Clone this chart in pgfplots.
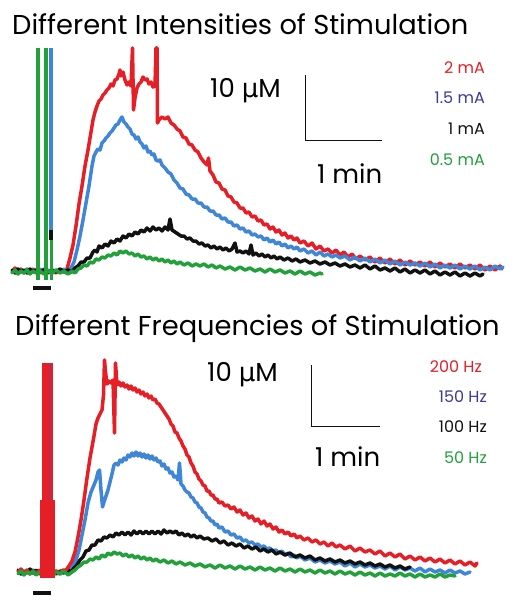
\documentclass[border=0pt]{standalone}
\usepackage{fontspec}
\setmainfont{Poppins}
\newfontfamily\mufont{DejaVu Sans}
\usepackage{pgfplots}
\pgfplotsset{compat=1.18}
\definecolor{cRed}{HTML}{E61E25}
\definecolor{cBlue}{HTML}{3F86D6}
\definecolor{cBlk}{HTML}{111111}
\definecolor{cGrn}{HTML}{22A03A}
\definecolor{tBlue}{HTML}{3A3A9A}
\definecolor{cPur}{HTML}{9A3A70}
\begin{document}
\begin{tikzpicture}
\begin{axis}[
  scale only axis, width=517pt, height=604pt,
  xmin=0, xmax=517, ymin=0, ymax=604, y dir=reverse,
  hide axis, clip=false,
  every axis plot/.append style={line join=round, line cap=round},
]
\addplot[draw=none, forget plot] coordinates {(0,0)(517,604)};
% ---------------- TOP PANEL ----------------
\node[anchor=base west, inner sep=0pt, font=\fontsize{27.3}{30}\selectfont] at (axis cs:12,35) {Different Intensities of Stimulation};
% red 2 mA
\addplot[cRed, line width=3.5pt] coordinates {
(12,271)(15,268)(18,272)(21,269)(24,273)(27,270)(30,272)(33,269)(36,271)(40,273)(44,269)(48,272)(52,270)(56,273)(60,269)(64,272)(67,269)(70,258)(73,245)(76,226)(79,204)(82,186)(85,166)(88,150)(91,132)(93,120)(95,112)(97,106)(99,101)(101,99)(103,95)(105,93)(107,90)(109,88)(111,84)(113,86)(115,80)(117,79)(119,74)(120,70)(121,76)(123,72)(125,80)(127,85)(129,82)(131,86)(132.5,48)(133.5,110)(135,98)(137,88)(139,84)(141,82)(143,77)(145,80)(147,79)(149,84)(151,82)(153,87)(155,86)(156,48)(157,48)(157.5,123)(159,120)(162,117)(165,119)(168,117)(171,123)(174,125)(177,129)(180,131)(183,137)(186,138)(189,144)(192,145)(195,150)(198,152)(201,158)(204,162)(207,165)(208.5,158)(210,171)(213,175)(216,182)(219,183)(222,189)(225,190)(228,196)(231,197)(234,202)(237,203)(240,208)(243,208)(246,213)(249,212)(252,217)(255,216)(258,221)(261,220)(264,225)(267,224)(270,229)(273,227)(276,232)(279,230)(282,235)(285,233)(288,238)(291,236)(294,240)(297,238)(300,243)(304,241)(308,246)(312,243)(316,249)(320,246)(324,251)(328,249)(332,253)(336,250)(340,255)(344,252)(348,257)(352,254)(356,259)(360,256)(365,260)(370,257)(375,262)(380,258)(385,263)(390,259)(395,264)(400,260)(405,265)(410,261)(415,265)(420,262)(425,266)(430,262)(435,267)(440,263)(445,267)(450,264)(455,268)(460,264)(465,268)(470,265)(475,269)(480,265)(485,270)(490,266)(495,270)(500,266)(502,269)};
% blue 1.5 mA
\addplot[cBlue, line width=3.5pt] coordinates {
(12,272)(15,270)(18,273)(21,270)(24,272)(27,269)(30,273)(33,270)(36,272)(40,269)(44,272)(48,270)(52,273)(56,270)(60,272)(64,269)(68,272)(71,268)(74,262)(77,250)(80,236)(83,220)(86,203)(89,186)(92,166)(94,156)(96,152)(98,149)(100,150)(102,143)(104,141)(106,138)(108,136)(110,133)(112,131)(114,128)(116,125)(118,124)(120,120)(122,117)(124,122)(126,124)(128,127)(130,129)(132,134)(134,135)(136,139)(138,137)(140,142)(142,144)(144,148)(146,146)(148,152)(150,151)(152,155)(154,154)(156,160)(158,161)(160,160)(162,165)(165,168)(168,172)(171,174)(174,180)(177,183)(180,188)(183,189)(186,194)(189,195)(192,199)(195,199)(198,203)(201,203)(204,207)(207,207)(210,211)(213,211)(216,215)(219,215)(222,219)(225,218)(228,222)(231,222)(234,226)(237,225)(240,229)(243,228)(246,232)(249,231)(252,235)(255,234)(258,237)(261,236)(264,240)(267,238)(270,242)(273,240)(276,244)(279,242)(282,246)(285,244)(288,248)(291,246)(294,249)(297,247)(300,251)(304,249)(308,253)(312,251)(316,255)(320,252)(324,256)(328,254)(332,257)(336,255)(340,258)(345,256)(350,260)(355,257)(360,261)(365,258)(370,262)(375,259)(380,263)(385,260)(390,264)(395,261)(400,265)(405,262)(410,265)(415,263)(420,266)(425,263)(430,267)(435,264)(440,268)(445,265)(450,268)(455,265)(460,269)(465,266)(470,269)(475,266)(480,270)(485,267)(490,270)(495,266)(500,269)(503,267)};
% black 1 mA
\addplot[cBlk, line width=3.5pt] coordinates {
(12,270)(15,273)(18,269)(21,272)(24,270)(27,273)(30,269)(33,272)(36,270)(40,272)(44,270)(48,273)(52,270)(56,272)(60,269)(64,272)(68,270)(72,272)(75,268)(78,266)(81,262)(84,262)(87,258)(90,258)(93,252)(95,250)(97,252)(99,246)(102,248)(105,244)(108,246)(111,241)(114,243)(117,239)(120,241)(123,236)(126,238)(129,234)(132,236)(135,232)(138,234)(141,230)(144,232)(147,228)(150,231)(153,227)(156,230)(159,228)(162,231)(165,227)(168,230)(170,219)(172,230)(175,232)(178,234)(181,236)(184,236)(187,239)(190,238)(193,241)(196,241)(199,244)(202,243)(205,246)(208,245)(211,248)(214,246)(217,249)(220,247)(223,250)(226,248)(229,251)(232,249)(235,243)(237,252)(240,251)(243,253)(246,251)(249,254)(251,245)(253,255)(256,253)(259,256)(262,254)(265,257)(268,255)(271,258)(274,256)(277,259)(280,257)(284,260)(288,258)(292,261)(296,259)(300,262)(305,260)(310,263)(315,261)(320,264)(325,262)(330,265)(335,263)(340,266)(345,264)(350,267)(355,265)(360,268)(365,265)(370,269)(375,266)(380,270)(385,268)(390,271)(395,268)(400,272)(405,269)(410,273)(415,270)(420,273)(425,270)(430,274)(435,271)(440,275)(445,272)(450,275)(455,272)(460,276)(465,273)(470,276)(475,273)(480,276)(483,274)};
% green 0.5 mA
\addplot[cGrn, line width=3.5pt] coordinates {
(12,273)(15,270)(18,274)(21,271)(24,273)(27,270)(30,274)(33,271)(36,273)(40,271)(44,274)(48,271)(52,273)(56,270)(60,273)(64,271)(68,274)(72,271)(75,273)(78,269)(81,268)(84,265)(87,266)(90,262)(93,263)(96,259)(99,260)(102,257)(105,258)(108,255)(111,256)(114,253)(117,255)(120,251)(123,253)(126,251)(129,254)(132,253)(135,256)(138,254)(141,257)(144,256)(147,259)(150,257)(153,260)(156,258)(159,261)(162,259)(165,262)(168,260)(171,263)(174,261)(177,264)(180,262)(184,265)(188,263)(192,266)(196,264)(200,266)(204,264)(208,267)(212,265)(216,268)(220,266)(225,269)(230,267)(235,270)(240,267)(245,270)(250,268)(255,271)(260,269)(265,272)(270,269)(275,272)(280,270)(285,273)(290,271)(295,274)(300,271)(305,274)(310,272)(315,275)(320,273)(322,274)};
% stimulation artefacts
\addplot[cGrn, line width=3.5pt, line cap=butt] coordinates {(38,48)(38,280)};
\addplot[cGrn, line width=3.5pt, line cap=butt] coordinates {(46,48)(46,280)};
\addplot[cBlue, line width=3.5pt, line cap=butt] coordinates {(51,48)(51,230)};
\addplot[cBlk, line width=3.5pt, line cap=butt] coordinates {(51,230)(51,240)};
\addplot[cGrn, line width=3.5pt, line cap=butt] coordinates {(51.5,240)(51.5,280)};
% stimulus bar
\addplot[cBlk, line width=4pt, line cap=butt] coordinates {(33,288)(51,288)};
% scale bar
\addplot[cBlk, line width=1pt, line cap=butt, line join=miter] coordinates {(305,75)(305,141)(382,141)};
\node[anchor=base west, inner sep=0pt, font=\fontsize{26}{28}\selectfont] at (axis cs:210,98) {10 {\mufont µ}M};
\node[anchor=base west, inner sep=0pt, font=\fontsize{26}{28}\selectfont] at (axis cs:317,183) {1 min};
% legend
\node[anchor=east, inner sep=0pt, text=cRed, font=\fontsize{16}{18}\selectfont] at (axis cs:485,68) {2 mA};
\node[anchor=east, inner sep=0pt, text=tBlue, font=\fontsize{16}{18}\selectfont] at (axis cs:485,98) {1.5 mA};
\node[anchor=east, inner sep=0pt, text=cBlk, font=\fontsize{16}{18}\selectfont] at (axis cs:485,129) {1 mA};
\node[anchor=east, inner sep=0pt, text=cGrn, font=\fontsize{16}{18}\selectfont] at (axis cs:485,160) {0.5 mA};
% ---------------- BOTTOM PANEL ----------------
\node[anchor=base west, inner sep=0pt, font=\fontsize{27.3}{30}\selectfont] at (axis cs:15,335) {Different Frequencies of Stimulation};
% blue 150 Hz
\addplot[cBlue, line width=3.5pt] coordinates {
(18,573)(21,570)(24,574)(27,571)(30,573)(33,570)(36,574)(40,571)(44,573)(48,570)(52,573)(56,571)(60,574)(64,571)(67,573)(70,570)(73,566)(76,560)(79,550)(82,535)(85,520)(88,503)(91,492)(94,485)(96,480)(98,472)(99.5,470)(101,490)(102.5,507)(104,502)(106,496)(108,490)(110,482)(112,474)(114,465)(116,463)(118,465)(120,460)(122,462)(124,458)(126,460)(128,455)(130,457)(132,453)(134,456)(136,452)(138,456)(140,453)(142,457)(144,454)(146,458)(148,455)(150,459)(152,456)(154,460)(156,458)(158,462)(160,461)(162,466)(164,464)(166,469)(168,468)(170,473)(172,472)(174,477)(176,476)(178,480)(179.5,463)(181,484)(183,486)(185,490)(187,492)(189,493)(191,497)(193,498)(195,502)(197,503)(199,507)(201,508)(203,512)(205,513)(207,517)(209,518)(211,521)(213,521)(215,525)(217,524)(219,528)(222,527)(225,532)(228,531)(231,535)(234,534)(237,538)(240,537)(243,541)(246,540)(249,543)(252,542)(255,545)(258,544)(261,547)(264,546)(267,549)(270,548)(273,551)(276,550)(279,553)(282,551)(285,555)(288,553)(291,557)(294,555)(297,558)(300,556)(305,560)(310,558)(315,562)(320,560)(325,563)(330,561)(335,564)(340,562)(345,566)(350,563)(355,567)(360,564)(365,567)(370,565)(375,568)(380,566)(385,569)(390,566)(395,570)(400,567)(405,570)(410,568)(415,571)(420,568)(425,572)(430,569)(435,572)(440,570)(445,573)(450,570)(455,573)(460,571)(465,574)(470,572)};
% black 100 Hz
\addplot[cBlk, line width=3.5pt] coordinates {
(18,570)(21,574)(24,571)(27,573)(30,569)(33,573)(36,570)(40,574)(44,571)(48,573)(52,570)(56,574)(60,571)(64,573)(68,570)(71,572)(74,568)(77,565)(80,560)(83,557)(86,551)(89,550)(92,545)(95,545)(98,540)(101,541)(104,537)(107,538)(110,535)(113,537)(116,533)(119,535)(122,532)(125,535)(128,532)(131,535)(134,531)(137,534)(140,531)(143,534)(146,531)(149,534)(152,531)(155,534)(158,531)(161,534)(164,530)(167,533)(170,531)(173,533)(176,531)(179,535)(182,533)(185,536)(188,534)(191,537)(194,535)(197,538)(200,536)(204,539)(208,538)(212,541)(216,539)(220,543)(224,541)(228,545)(232,543)(236,546)(240,544)(244,548)(248,546)(252,549)(256,547)(260,551)(264,549)(268,552)(272,550)(276,554)(280,552)(285,555)(290,553)(295,557)(300,555)(305,558)(310,556)(315,560)(320,558)(325,561)(330,559)(335,562)(340,560)(345,563)(350,561)(355,564)(360,562)(365,565)(370,563)(375,566)(380,564)(385,567)(390,565)(395,568)(400,566)(405,569)(410,567)};
% red 200 Hz
\addplot[cRed, line width=3.5pt] coordinates {
(18,572)(21,569)(24,573)(27,570)(30,574)(33,571)(36,573)(40,570)(44,573)(48,571)(52,574)(56,571)(60,573)(63,570)(66,570)(69,566)(72,561)(75,552)(78,537)(81,520)(84,500)(87,478)(90,458)(92,447)(94,436)(96,424)(98,418)(100,414)(102,410)(103.5,395)(104.5,360)(105.5,372)(107,384)(109,381)(111,383)(113,380)(114.5,433)(115.5,363)(117,385)(119,382)(121,386)(123,383)(125,387)(127,385)(129,389)(131,386)(133,390)(135,388)(137,392)(139,390)(141,394)(143,392)(145,396)(147,394)(149,398)(151,396)(153,400)(155,399)(157,403)(159,404)(161,407)(163,410)(165,413)(167,416)(169,419)(171,424)(173,426)(175,432)(177,433)(179,438)(181,441)(183,446)(185,449)(187,455)(189,457)(191,463)(193,466)(195,472)(197,474)(199,479)(201,481)(203,485)(205,486)(207,491)(209,491)(211,495)(213,495)(215,499)(217,499)(219,503)(222,502)(225,506)(228,505)(231,509)(234,507)(237,512)(240,510)(243,515)(246,513)(249,518)(252,516)(255,521)(258,519)(261,524)(264,521)(267,526)(270,524)(273,529)(276,527)(279,532)(282,530)(285,534)(288,532)(291,536)(294,534)(297,538)(300,536)(304,540)(308,538)(312,542)(316,540)(320,544)(324,542)(328,546)(332,543)(336,547)(340,545)(345,549)(350,546)(355,551)(360,548)(365,552)(370,550)(375,554)(380,551)(385,556)(390,553)(395,557)(400,554)(405,559)(410,556)(415,560)(420,557)(425,561)(430,558)(435,562)(440,559)(445,563)(450,560)(455,564)(460,561)(465,565)(470,562)(475,566)(477,563)};
% green 50 Hz
\addplot[cGrn, line width=3.5pt] coordinates {
(18,574)(21,571)(24,575)(27,572)(30,574)(33,571)(36,575)(40,572)(44,574)(48,571)(52,575)(56,572)(60,574)(64,571)(68,575)(72,572)(75,570)(78,567)(81,565)(84,562)(87,562)(90,559)(93,560)(96,557)(99,559)(102,555)(105,557)(108,553)(111,555)(114,552)(117,554)(120,553)(123,556)(126,554)(129,557)(132,555)(135,558)(138,556)(141,559)(144,557)(147,560)(150,558)(153,561)(156,559)(160,562)(164,560)(168,563)(172,561)(176,564)(180,562)(185,565)(190,563)(195,566)(200,564)(205,567)(210,565)(215,568)(220,565)(225,568)(230,566)(235,569)(240,566)(245,569)(250,567)(255,570)(260,567)(265,570)(270,568)(275,571)(280,568)(285,571)(290,569)(295,572)(300,569)(305,572)(310,570)(315,573)(320,570)(325,573)(330,571)(335,574)(340,571)(345,574)(350,572)(355,575)(360,572)(365,575)(370,573)(375,576)(380,573)(385,576)(390,574)(395,576)(400,573)(405,576)(410,574)(415,577)(420,574)(425,577)(430,575)(435,577)(440,574)(445,577)(450,575)(455,576)};
% stimulation artefact block
\addplot[fill=cRed, draw=none] coordinates {(42,363)(53,363)(53,578)(42,578)} -- cycle;
\addplot[fill=cRed, draw=none] coordinates {(40,500)(55,500)(55,578)(40,578)} -- cycle;
\addplot[cPur, line width=2pt, opacity=0.6, line cap=butt] coordinates {(50,363)(50,500)};
% stimulus bar
\addplot[cBlk, line width=4pt, line cap=butt] coordinates {(33,593)(51,593)};
% scale bar
\addplot[cBlk, line width=1pt, line cap=butt, line join=miter] coordinates {(311,365)(311,426)(380,426)};
\node[anchor=base west, inner sep=0pt, font=\fontsize{26}{28}\selectfont] at (axis cs:207,381) {10 {\mufont µ}M};
\node[anchor=base west, inner sep=0pt, font=\fontsize{26}{28}\selectfont] at (axis cs:315,466) {1 min};
% legend
\node[anchor=east, inner sep=0pt, text=cRed, font=\fontsize{16}{18}\selectfont] at (axis cs:482,367) {200 Hz};
\node[anchor=east, inner sep=0pt, text=tBlue, font=\fontsize{16}{18}\selectfont] at (axis cs:487,397) {150 Hz};
\node[anchor=east, inner sep=0pt, text=cBlk, font=\fontsize{16}{18}\selectfont] at (axis cs:487,427) {100 Hz};
\node[anchor=east, inner sep=0pt, text=cGrn, font=\fontsize{16}{18}\selectfont] at (axis cs:487,458) {50 Hz};
\end{axis}
\end{tikzpicture}
\end{document}
